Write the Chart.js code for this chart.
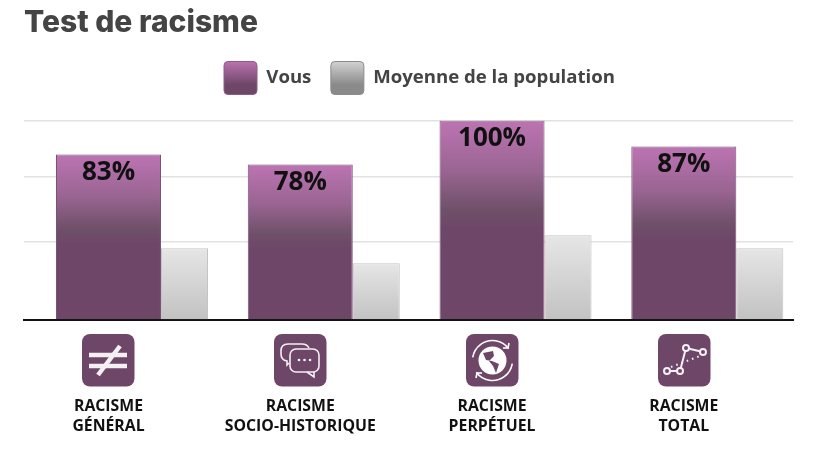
<!DOCTYPE html>
<html lang="fr">
<head>
<meta charset="utf-8">
<title>Test de racisme</title>
<script src="https://cdn.jsdelivr.net/npm/chart.js@4"></script>
<style>
  html, body { margin: 0; padding: 0; background: #fff; }
  #wrap { width: 822px; height: 451px; }
</style>
</head>
<body>
<div id="wrap"><canvas id="racismeChart" width="822" height="451"></canvas></div>
<script>
const categories = [["RACISME", "GÉNÉRAL"], ["RACISME", "SOCIO-HISTORIQUE"], ["RACISME", "PERPÉTUEL"], ["RACISME", "TOTAL"]];
const vous = [83, 78, 100, 87];
const moyenne = [36, 28.5, 42.5, 36];
const gridValues = [0, 39, 72, 100];

const PURPLE = "#6e4668";
const OPEN_SANS = "'Open Sans', sans-serif";

// bars share a slot but have different widths, so x is a linear scale in category units
const vousOffset = 0.4406;
const moyenneOffset = 0.837;

function barGradient(context, stops) {
  const chart = context.chart;
  if (!chart.chartArea || context.raw === undefined) return stops[0][1];
  const y = chart.scales.y;
  const g = chart.ctx.createLinearGradient(0, y.getPixelForValue(context.raw.y), 0, y.getPixelForValue(0));
  stops.forEach(function (s) { g.addColorStop(s[0], s[1]); });
  return g;
}

const purpleStops = [[0, "#bc74b3"], [0.25, "#9a6592"], [0.45, "#6e5068"], [0.55, "#6e4668"], [1, "#6e4668"]];
const greyStops = [[0, "#e6e6e6"], [1, "#c2c2c2"]];

function legendGradient(ctx, top, bottom, c1, c2) {
  const g = ctx.createLinearGradient(0, top, 0, bottom);
  g.addColorStop(0, c1);
  g.addColorStop(0.7, c2);
  g.addColorStop(1, c2);
  return g;
}

const icons = [
  function (c) {
    c.lineWidth = 4.5;
    c.lineCap = "butt";
    line(c, 7, 21, 45, 21);
    line(c, 7, 32, 45, 32);
    line(c, 38, 12, 16, 41);
  },
  function (c) {
    c.lineWidth = 1.6;
    c.beginPath();
    c.moveTo(15, 29);
    c.lineTo(13, 31);
    c.lineTo(13, 27);
    c.quadraticCurveTo(7, 26, 7, 20);
    c.lineTo(7, 17);
    c.quadraticCurveTo(7, 10, 14, 10);
    c.lineTo(28, 10);
    c.quadraticCurveTo(33, 10, 35, 14);
    c.stroke();
    c.beginPath();
    c.roundRect(16, 15, 29, 23, 6);
    c.fillStyle = PURPLE;
    c.fill();
    c.stroke();
    c.beginPath();
    c.moveTo(33, 38);
    c.lineTo(40, 43);
    c.lineTo(40, 38);
    c.stroke();
    c.fillStyle = "#fff";
    [25, 30.5, 36].forEach(function (x) {
      c.beginPath();
      c.arc(x, 26, 1.3, 0, Math.PI * 2);
      c.fill();
    });
  },
  function (c) {
    c.fillStyle = "#fff";
    c.beginPath();
    c.arc(26.5, 26.5, 14, 0, Math.PI * 2);
    c.fill();
    c.fillStyle = PURPLE;
    c.beginPath();
    c.moveTo(17, 19);
    c.lineTo(27, 17);
    c.lineTo(28, 22);
    c.lineTo(23, 27);
    c.lineTo(27, 32);
    c.lineTo(30, 39);
    c.lineTo(33, 30);
    c.lineTo(26, 27);
    c.lineTo(20, 26);
    c.closePath();
    c.fill();
    c.strokeStyle = "#fff";
    c.lineWidth = 1.6;
    c.beginPath();
    c.arc(26.5, 26.5, 20, Math.PI * 1.05, Math.PI * 1.8);
    c.stroke();
    c.beginPath();
    c.arc(26.5, 26.5, 20, Math.PI * 0.05, Math.PI * 0.8);
    c.stroke();
    line(c, 42, 14, 43, 9);
    line(c, 42, 14, 37, 14);
    line(c, 11, 39, 10, 44);
    line(c, 11, 39, 16, 39);
  },
  function (c) {
    const pts = [[9, 37], [22, 37], [28, 14], [45, 18]];
    c.lineWidth = 2;
    c.beginPath();
    pts.forEach(function (p, i) {
      if (i === 0) c.moveTo(p[0], p[1]); else c.lineTo(p[0], p[1]);
    });
    c.stroke();
    c.setLineDash([1.6, 4]);
    line(c, 13, 33, 42, 22);
    c.setLineDash([]);
    c.fillStyle = PURPLE;
    pts.forEach(function (p) {
      c.beginPath();
      c.arc(p[0], p[1], 3, 0, Math.PI * 2);
      c.fill();
      c.stroke();
    });
  }
];

function line(c, x1, y1, x2, y2) {
  c.beginPath();
  c.moveTo(x1, y1);
  c.lineTo(x2, y2);
  c.stroke();
}

const extrasPlugin = {
  id: "extras",
  beforeInit: function (chart) {
    // leave a gap between the legend and the plot
    const fit = chart.legend.fit;
    chart.legend.fit = function () {
      fit.call(this);
      this.height += 16;
    };
  },
  afterLayout: function (chart) {
    // legend sits a little right of the plot centre
    chart.legend.left += 11;
    chart.legend.right += 11;
  },
  afterDatasetsDraw: function (chart) {
    const ctx = chart.ctx;
    ctx.save();
    ctx.font = "700 26px " + OPEN_SANS;
    ctx.fillStyle = "#111";
    ctx.textAlign = "center";
    ctx.textBaseline = "middle";
    chart.getDatasetMeta(0).data.forEach(function (bar, i) {
      ctx.fillText(vous[i] + "%", bar.x, bar.y + 18);
    });
    ctx.restore();
  },
  afterDraw: function (chart) {
    const ctx = chart.ctx;
    const x = chart.scales.x;
    x.ticks.forEach(function (tick, i) {
      ctx.save();
      ctx.translate(Math.round(x.getPixelForValue(tick.value)) - 26, chart.chartArea.bottom + 14);
      ctx.fillStyle = PURPLE;
      ctx.beginPath();
      ctx.roundRect(0, 0, 52.5, 52.5, 8);
      ctx.fill();
      ctx.strokeStyle = "#f4eff3";
      icons[i](ctx);
      ctx.restore();
    });
  }
};

const chartCtx = document.getElementById("racismeChart").getContext("2d");

new Chart(chartCtx, {
  type: "bar",
  plugins: [extrasPlugin],
  data: {
    datasets: [
      {
        label: "Vous",
        data: vous.map(function (v, i) { return { x: i + vousOffset, y: v }; }),
        grouped: false,
        barPercentage: 5,
        categoryPercentage: 1,
        maxBarThickness: 105,
        backgroundColor: function (context) { return barGradient(context, purpleStops); },
        borderColor: "#7d5078",
        borderWidth: 1
      },
      {
        label: "Moyenne de la population",
        data: moyenne.map(function (v, i) { return { x: i + moyenneOffset, y: v }; }),
        grouped: false,
        barPercentage: 5,
        categoryPercentage: 1,
        maxBarThickness: 47,
        backgroundColor: function (context) { return barGradient(context, greyStops); },
        borderColor: "#c4c4c4",
        borderWidth: 1
      }
    ]
  },
  options: {
    responsive: false,
    animation: false,
    devicePixelRatio: 1,
    layout: { padding: { left: 24, right: 29, top: 3, bottom: 0 } },
    plugins: {
      tooltip: { enabled: false },
      title: {
        display: true,
        text: "Test de racisme",
        align: "start",
        color: "#444444",
        font: { family: "Inter, sans-serif", size: 30, weight: "800" },
        padding: { top: 2, bottom: 1 }
      },
      legend: {
        display: true,
        position: "top",
        align: "center",
        labels: {
          boxWidth: 33,
          boxHeight: 33,
          padding: 19.5,
          useBorderRadius: true,
          borderRadius: 4,
          color: "#444444",
          font: { family: OPEN_SANS, size: 18.6, weight: "700" },
          generateLabels: function () {
            return [
              {
                text: "Vous",
                fontColor: "#444444",
                borderRadius: 4,
                fillStyle: legendGradient(chartCtx, 61, 95, "#bc74b3", "#6e4668"),
                strokeStyle: "#8e5c88",
                lineWidth: 1,
                datasetIndex: 0
              },
              {
                text: "Moyenne de la population",
                fontColor: "#444444",
                borderRadius: 4,
                fillStyle: legendGradient(chartCtx, 61, 95, "#d4d4d4", "#8a8a8a"),
                strokeStyle: "#8a8a8a",
                lineWidth: 1,
                datasetIndex: 1
              }
            ];
          }
        }
      }
    },
    scales: {
      x: {
        type: "linear",
        offset: false,
        min: 0,
        max: 4.01,
        afterBuildTicks: function (scale) {
          scale.ticks = categories.map(function (c, i) { return { value: i + vousOffset }; });
        },
        // tick padding is counted twice when the axis is measured
        afterFit: function (scale) { scale.height = 131; },
        grid: { display: false },
        border: { display: true, color: "#111111", width: 2 },
        ticks: {
          autoSkip: false,
          maxRotation: 0,
          padding: 68,
          color: "#111111",
          font: { family: OPEN_SANS, size: 15.8, weight: "700", lineHeight: 1.28 },
          callback: function (value, index) { return categories[index]; }
        }
      },
      y: {
        min: 0,
        max: 100,
        afterBuildTicks: function (scale) {
          scale.ticks = gridValues.map(function (v) { return { value: v }; });
        },
        grid: { color: "#e2e2e2", lineWidth: 1.5, drawTicks: false },
        border: { display: false },
        ticks: { display: false }
      }
    }
  }
});
</script>
</body>
</html>
